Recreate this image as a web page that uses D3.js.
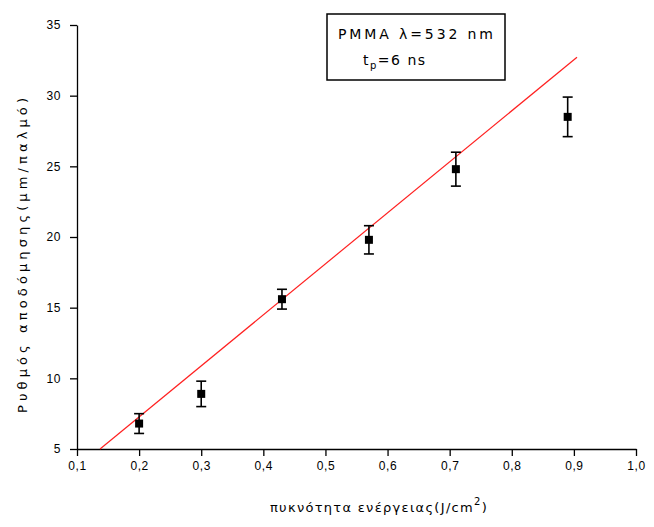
<!DOCTYPE html>
<html>
<head>
<meta charset="utf-8">
<script src="https://cdn.jsdelivr.net/npm/d3@7"></script>
<style>
  html, body { margin: 0; padding: 0; background: #fff; }
  svg { display: block; font-family: "Liberation Sans", Arial, sans-serif; }
  .wide { font-family: "DejaVu Sans", sans-serif; }
</style>
</head>
<body>
<svg id="chart" width="654" height="527"></svg>
<script>
// Ablation rate vs. fluence for PMMA
const fluence = [0.2, 0.3, 0.43, 0.57, 0.71, 0.89];
const rate    = [6.8, 8.9, 15.6, 19.8, 24.8, 28.5];
const rateErr = [0.7, 0.9, 0.7, 1.0, 1.2, 1.4];

// Linear fit: rate = slope * fluence + intercept
const fitSlope = 36.1;
const fitIntercept = 0.05;
const fitEnd = 0.905;

const xTicks = [0.1, 0.2, 0.3, 0.4, 0.5, 0.6, 0.7, 0.8, 0.9, 1.0];
const yTicks = [5, 10, 15, 20, 25, 30, 35];

const svg = d3.select("#chart");
const margin = { left: 77, right: 18, top: 25, bottom: 78 };
const W = 654, H = 527;

const x = d3.scaleLinear().domain([0.1, 1.0]).range([margin.left, W - margin.right]);
const y = d3.scaleLinear().domain([5, 35]).range([H - margin.bottom, margin.top]);

const fmt = d => d3.format(".1f")(d).replace(".", ",");

// Bottom axis with minor ticks
const gx = svg.append("g").attr("transform", `translate(0,${y(5)})`);
gx.call(d3.axisBottom(x).tickValues(d3.range(0.15, 1.0, 0.1)).tickSize(4).tickFormat(""));
gx.call(d3.axisBottom(x).tickValues(xTicks).tickSize(7).tickSizeOuter(0).tickFormat(fmt));
gx.selectAll("text").attr("font-size", 12).attr("dy", "0.9em").attr("fill", "#000")
  .attr("letter-spacing", 0.6);

// Left axis with minor ticks
const gy = svg.append("g").attr("transform", `translate(${x(0.1)},0)`);
gy.call(d3.axisLeft(y).tickValues(d3.range(7.5, 35, 5)).tickSize(4).tickFormat(""));
gy.call(d3.axisLeft(y).tickValues(yTicks).tickSize(7).tickSizeOuter(0).tickFormat(d3.format("d")));
gy.selectAll("text").attr("font-size", 12).attr("dx", "-0.5em").attr("fill", "#000")
  .attr("letter-spacing", 0.6);

svg.selectAll(".domain").attr("stroke", "#000").attr("stroke-width", 1.3);
svg.selectAll(".tick line").attr("stroke", "#000").attr("stroke-width", 1.3);

// Fit line
const xStart = (5 - fitIntercept) / fitSlope;
svg.append("line")
  .attr("x1", x(xStart)).attr("y1", y(fitSlope * xStart + fitIntercept))
  .attr("x2", x(fitEnd)).attr("y2", y(fitSlope * fitEnd + fitIntercept))
  .attr("stroke", "#ff2020").attr("stroke-width", 1.2);

// Error bars and markers
const pts = fluence.map((f, i) => ({ f, r: rate[i], e: rateErr[i] }));
const eb = svg.append("g").attr("stroke", "#000").attr("stroke-width", 1.6);
pts.forEach(p => {
  eb.append("line").attr("x1", x(p.f)).attr("x2", x(p.f)).attr("y1", y(p.r - p.e)).attr("y2", y(p.r + p.e));
  [p.r - p.e, p.r + p.e].forEach(v => {
    eb.append("line").attr("x1", x(p.f) - 5).attr("x2", x(p.f) + 5).attr("y1", y(v)).attr("y2", y(v));
  });
});
svg.append("g").selectAll("rect").data(pts).join("rect")
  .attr("x", d => x(d.f) - 4).attr("y", d => y(d.r) - 4)
  .attr("width", 8).attr("height", 8).attr("fill", "#000");

// Legend box
const lg = svg.append("g").attr("class", "wide");
lg.append("rect").attr("x", 327).attr("y", 14).attr("width", 178).attr("height", 66)
  .attr("fill", "#fff").attr("stroke", "#000").attr("stroke-width", 1.5);
lg.append("text").attr("x", 338).attr("y", 39).attr("font-size", 14)
  .attr("textLength", 155).attr("lengthAdjust", "spacing").text("PMMA λ=532 nm");
const t2 = lg.append("text").attr("x", 363).attr("y", 65).attr("font-size", 14)
  .attr("letter-spacing", 1.5);
t2.append("tspan").text("t");
t2.append("tspan").attr("font-size", 10).attr("dy", 4).text("p");
t2.append("tspan").attr("dy", -4).text("=6 ns");

// Axis titles
const xl = svg.append("text").attr("class", "wide").attr("x", 379).attr("y", 512)
  .attr("text-anchor", "middle").attr("font-size", 13).attr("letter-spacing", 1.3);
xl.append("tspan").text("πυκνότητα ενέργειας(J/cm");
xl.append("tspan").attr("font-size", 10).attr("dy", -7).text("2");
xl.append("tspan").attr("dy", 7).text(")");

svg.append("text").attr("class", "wide").attr("transform", `translate(27,413) rotate(-90)`)
  .attr("text-anchor", "start").attr("font-size", 13)
  .attr("textLength", 315).attr("lengthAdjust", "spacing")
  .text("Ρυθμός αποδόμησης(μm/παλμό)");
</script>
</body>
</html>
